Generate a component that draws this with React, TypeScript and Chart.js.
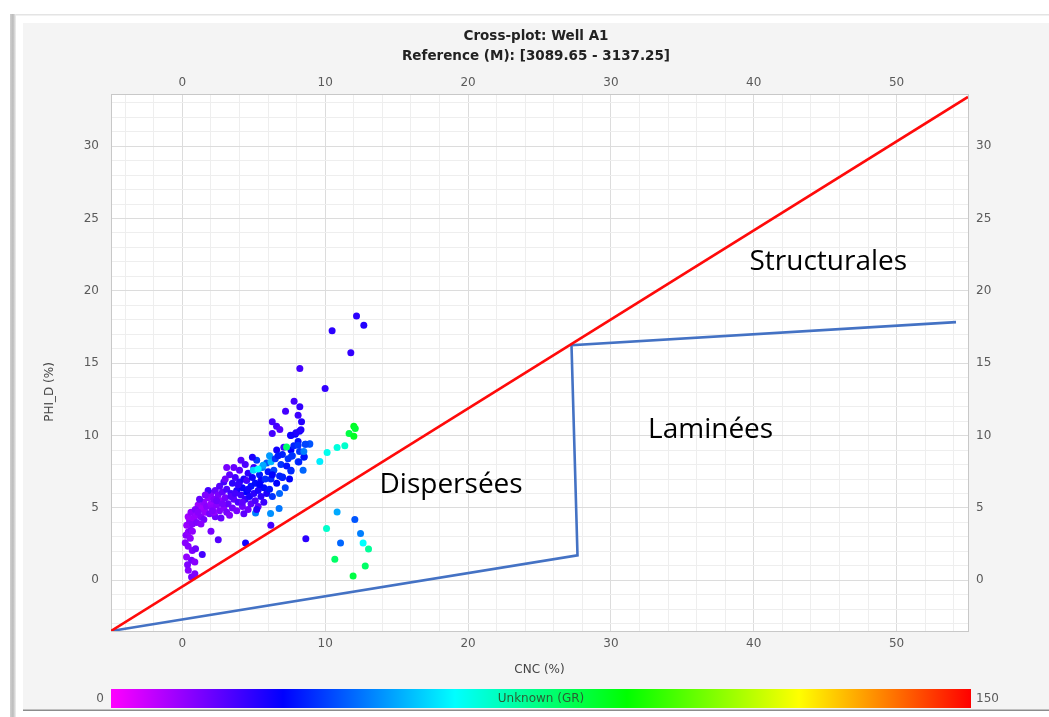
import React, { useEffect, useRef } from "react";
import { Chart, registerables } from "chart.js";

Chart.register(...registerables);

const W = 1049;
const H = 717;

// Axis extents (CNC % on x, PHI_D % on y)
const X_MIN = -5;
const X_MAX = 55;
const Y_MIN = -3.5;
const Y_MAX = 33.6;

const xTickLabels = [0, 10, 20, 30, 40, 50];
const yTickLabels = [0, 5, 10, 15, 20, 25, 30];
const xGridValues = [-4, -2, 0, 2, 4, 6, 8, 10, 12, 14, 16, 18, 20, 22, 24, 26, 28, 30, 32, 34, 36, 38, 40, 42, 44, 46, 48, 50, 52, 54];
const yGridValues = [-3, -2, -1, 0, 1, 2, 3, 4, 5, 6, 7, 8, 9, 10, 11, 12, 13, 14, 15, 16, 17, 18, 19, 20, 21, 22, 23, 24, 25, 26, 27, 28, 29, 30, 31, 32, 33];

// Samples: neutron porosity (CNC), density porosity (PHI_D), gamma ray (GR)
const cnc = [
  0.64, 0.87, 0.41, 0.36, 0.64, 0.87, 0.29, 1.39, 0.4, 0.69, 0.92, 0.25, 0.41, 0.59, 0.2, 0.55,
  2.51, 4.42, 6.19, 8.64, 5.12, 6.17, 6.77, 2.0,
  0.3, 0.5, 0.4, 0.7, 0.8, 0.6, 1.0, 1.0, 1.2, 1.1, 1.3, 1.4, 1.5, 1.6, 1.7, 1.8, 1.9, 2.0, 2.0, 2.1,
  2.2, 2.3, 2.3, 2.4, 2.5, 2.6, 2.6, 2.7, 2.8, 2.9, 2.9, 3.0, 1.5, 1.2, 0.9, 1.8, 2.2, 0.7, 1.3, 2.7,
  3.1, 3.2, 3.1, 3.3, 3.1, 3.4, 3.5, 3.5, 3.6, 3.7, 3.8, 3.8, 3.9, 4.0, 4.0, 4.1, 4.2, 4.2, 4.3, 4.4,
  4.4, 4.5, 4.5, 4.6, 4.6, 4.7, 4.8, 4.8, 4.9, 5.0, 5.0, 5.1, 5.1, 5.2, 5.3, 5.3, 5.4, 5.5, 5.5, 5.6,
  5.7, 5.7, 5.8, 5.9, 5.9, 6.0, 3.3, 3.6, 4.1, 3.0, 4.3, 5.2, 4.9, 3.9, 4.6, 5.4,
  1.6, 2.4, 3.4, 2.8, 3.7, 4.2, 1.1, 2.1,
  4.96, 5.65, 5.3, 6.2, 6.1,
  6.1, 6.2, 6.3, 6.4, 6.5, 6.6, 6.6, 6.8, 6.8, 6.9, 7.0, 7.0, 7.1, 7.2, 7.3, 7.4, 7.5, 7.6, 7.6, 7.7,
  7.8, 7.9, 7.6, 8.1, 8.2, 8.2, 8.1, 8.5, 8.6, 8.9, 7.6, 8.45, 7.01, 7.64, 8.15, 8.53, 6.3, 6.7,
  12.19, 12.7, 10.48, 11.79, 8.22, 9.99, 7.82, 8.22, 7.22, 8.1, 8.34, 6.29, 6.59, 6.82, 6.29, 7.95, 7.57, 8.3,
  12.0, 12.1, 11.67, 12.0, 11.37, 10.83, 10.13, 9.62, 8.92, 8.62, 8.1, 7.29, 8.5,
  10.83, 12.07, 10.09, 12.47, 11.07, 12.65, 13.03, 10.67, 12.8, 11.95,
];

const phid = [
  0.23, 0.46, 0.69, 1.08, 1.38, 1.27, 1.61, 1.78, 2.35, 2.07, 2.19, 3.11, 3.34, 3.46, 2.6, 2.9,
  2.81, 2.58, 3.8, 2.88, 4.65, 4.61, 4.96, 3.4,
  3.8, 4.1, 4.4, 3.9, 4.3, 4.7, 4.5, 4.0, 4.9, 5.2, 4.4, 5.0, 5.4, 4.7, 5.1, 5.7, 4.6, 5.3, 6.0, 5.0,
  5.6, 4.4, 6.2, 5.2, 5.9, 4.8, 6.5, 5.5, 6.1, 5.0, 6.8, 5.7, 4.2, 5.6, 4.9, 6.2, 4.7, 3.4, 3.9, 4.3,
  4.7, 5.3, 6.3, 7.3, 7.8, 6.0, 5.0, 6.7, 5.6, 7.1, 6.2, 4.8, 5.4, 6.8, 7.6, 5.9, 6.4, 5.1, 7.0, 5.6,
  8.0, 6.1, 6.9, 4.9, 7.4, 5.8, 6.5, 5.3, 7.1, 6.0, 7.8, 5.5, 6.7, 8.3, 6.2, 5.1, 7.3, 5.8, 6.9, 7.8,
  6.4, 5.4, 7.0, 8.1, 6.0, 7.5, 4.5, 7.8, 8.3, 7.0, 4.6, 4.9, 8.5, 6.6, 6.3, 6.6,
  5.9, 5.5, 5.8, 5.3, 6.0, 5.4, 4.7, 4.8,
  7.6, 7.95, 7.7, 8.2, 8.6,
  6.3, 7.0, 5.8, 7.6, 8.4, 6.7, 9.0, 7.2, 6.0, 8.0, 7.1, 8.7, 9.2, 6.4, 7.9, 8.4, 7.0, 9.0, 7.6, 8.6,
  9.3, 10.1, 10.0, 9.6, 8.9, 10.3, 8.2, 8.5, 9.4, 9.4, 7.56, 7.61, 7.14, 8.58, 8.18, 8.53, 7.3, 8.6,
  18.26, 17.63, 17.24, 15.72, 14.64, 13.26, 12.38, 11.99, 11.69, 11.41, 10.95, 10.95, 10.65, 10.42, 10.14, 10.2, 10.03, 10.4,
  10.65, 10.49, 10.14, 9.96, 9.29, 9.18, 8.83, 8.21, 9.44, 9.4, 9.34, 9.22, 8.9,
  4.72, 4.2, 3.58, 3.23, 2.58, 2.58, 2.17, 1.45, 0.99, 0.3,
];

const gr = [
  16, 15, 14, 15, 16, 14, 13, 22, 14, 15, 17, 14, 13, 15, 14, 13,
  20, 28, 22, 25, 45, 47, 44, 16,
  12, 13, 11, 14, 12, 13, 12, 15, 13, 12, 14, 11, 13, 12, 14, 13, 16, 12, 14, 13,
  15, 17, 18, 14, 16, 15, 20, 13, 18, 14, 22, 16, 16, 18, 15, 22, 13, 13, 14, 18,
  16, 18, 21, 19, 16, 23, 17, 25, 19, 22, 27, 16, 21, 25, 19, 23, 29, 17, 27, 24,
  21, 30, 22, 17, 25, 27, 32, 19, 29, 25, 23, 21, 31, 37, 27, 19, 33, 25, 29, 45,
  31, 23, 35, 40, 27, 32, 15, 18, 20, 17, 19, 25, 27, 24, 28, 30,
  15, 17, 20, 16, 22, 19, 14, 15,
  55, 50, 60, 52, 48,
  32, 34, 36, 38, 36, 30, 28, 34, 42, 36, 30, 34, 22, 38, 32, 36, 30, 30, 34, 38,
  34, 30, 28, 32, 36, 28, 40, 38, 40, 40, 35, 42, 34, 36, 34, 32, 30, 33,
  25, 26, 25, 24, 22, 24, 22, 24, 22, 23, 26, 22, 22, 20, 22, 26, 28, 26,
  86, 84, 82, 86, 66, 64, 62, 58, 40, 38, 36, 78, 45,
  50, 40, 66, 45, 42, 60, 72, 78, 78, 82,
];

// Zone boundaries
const redLineX = [-5, 55];
const redLineY = [-3.5, 33.4];
const blueLineX = [-5, 27.66, 27.24, 54.16];
const blueLineY = [-3.5, 1.73, 16.25, 17.84];

// Zone names, anchored at their left edge in data units
const zoneNames = ["Structurales", "Laminées", "Dispersées"];
const zoneX = [39.7, 32.6, 13.8];
const zoneY = [22.0, 10.4, 6.6];

const GR_MIN = 0;
const GR_MAX = 150;
const rampStops: [number, number[]][] = [
  [0, [255, 0, 255]],
  [0.2, [0, 0, 255]],
  [0.4, [0, 255, 255]],
  [0.6, [0, 255, 0]],
  [0.8, [255, 255, 0]],
  [1, [255, 0, 0]],
];

function rampColor(v: number): string {
  const t = Math.max(0, Math.min(1, (v - GR_MIN) / (GR_MAX - GR_MIN)));
  for (let i = 1; i < rampStops.length; i++) {
    const [t1, c1] = rampStops[i];
    const [t0, c0] = rampStops[i - 1];
    if (t <= t1) {
      const f = (t - t0) / (t1 - t0);
      const c = c0.map((a, k) => Math.round(a + (c1[k] - a) * f));
      return `rgb(${c[0]},${c[1]},${c[2]})`;
    }
  }
  return "rgb(255,0,0)";
}

const TICK_FONT = { family: "'DejaVu Sans', sans-serif", size: 12 };
const TICK_COLOR = "#5a5a5a";
const GRID_MAJOR = "#dcdcdc";
const GRID_MINOR = "#eeeeee";
const FRAME_GREY = "#c8c8c8";

const framePlugin = {
  id: "frame",
  beforeDraw(chart: any) {
    const { ctx, chartArea } = chart;
    ctx.save();
    ctx.fillStyle = "#ffffff";
    ctx.fillRect(0, 0, W, H);
    // outer window edge
    ctx.fillStyle = "#e4e4e4";
    ctx.fillRect(11, 14, W - 11, 1.5);
    const g = ctx.createLinearGradient(10, 0, 16, 0);
    g.addColorStop(0, "#d0d0d0");
    g.addColorStop(0.5, "#bcbcbc");
    g.addColorStop(1, "#f0f0f0");
    ctx.fillStyle = g;
    ctx.fillRect(10, 14, 6, H - 14);
    // grey panel
    ctx.fillStyle = "#f4f4f4";
    ctx.fillRect(23, 23, W - 23, 710 - 23);
    // plot background
    ctx.fillStyle = "#ffffff";
    ctx.fillRect(chartArea.left, chartArea.top, chartArea.right - chartArea.left, chartArea.bottom - chartArea.top);
    ctx.restore();
  },
  afterDraw(chart: any) {
    const { ctx, chartArea, scales } = chart;
    ctx.save();
    // titles
    ctx.fillStyle = "#222222";
    ctx.textAlign = "center";
    ctx.textBaseline = "middle";
    ctx.font = "bold 13.5px 'DejaVu Sans', sans-serif";
    ctx.fillText("Cross-plot: Well A1", 536, 36);
    ctx.fillText("Reference (M): [3089.65 - 3137.25]", 536, 56);

    // axis titles
    ctx.fillStyle = "#444444";
    ctx.font = "12px 'DejaVu Sans', sans-serif";
    ctx.fillText("CNC (%)", (chartArea.left + chartArea.right) / 2, 670);
    ctx.save();
    ctx.translate(50, 392);
    ctx.rotate(-Math.PI / 2);
    ctx.fillText("PHI_D (%)", 0, 0);
    ctx.restore();

    // zone names
    ctx.fillStyle = "#000000";
    ctx.textAlign = "left";
    ctx.font = "28px 'Open Sans', sans-serif";
    zoneNames.forEach((name, i) => {
      ctx.fillText(name, scales.x.getPixelForValue(zoneX[i]), scales.y.getPixelForValue(zoneY[i]));
    });

    // colour bar
    const cbLeft = chartArea.left;
    const cbRight = chartArea.right + 3;
    const cbTop = 689;
    const cbBottom = 708;
    const grad = ctx.createLinearGradient(cbLeft, 0, cbRight, 0);
    rampStops.forEach(([t, c]) => grad.addColorStop(t, `rgb(${c[0]},${c[1]},${c[2]})`));
    ctx.fillStyle = grad;
    ctx.fillRect(cbLeft, cbTop, cbRight - cbLeft, cbBottom - cbTop);
    ctx.fillStyle = "#2a5e34";
    ctx.textAlign = "center";
    ctx.font = "12px 'DejaVu Sans', sans-serif";
    ctx.fillText("Unknown (GR)", (cbLeft + cbRight) / 2, 699);
    ctx.fillStyle = TICK_COLOR;
    ctx.font = "12px 'DejaVu Sans', sans-serif";
    ctx.textAlign = "right";
    ctx.fillText(String(GR_MIN), cbLeft - 7, 699);
    ctx.textAlign = "left";
    ctx.fillText(String(GR_MAX), cbRight + 5, 699);

    // bottom rule
    ctx.fillStyle = "#8c8c8c";
    ctx.fillRect(23, 709.5, W - 23, 1.5);
    ctx.restore();
  },
};

export default function App() {
  const canvasRef = useRef<HTMLCanvasElement | null>(null);

  useEffect(() => {
    const canvas = canvasRef.current;
    if (!canvas) return;

    const points = cnc.map((x, i) => ({ x, y: phid[i] }));
    const pointColors = gr.map((v) => rampColor(v));
    const red = redLineX.map((x, i) => ({ x, y: redLineY[i] }));
    const blue = blueLineX.map((x, i) => ({ x, y: blueLineY[i] }));

    const gridColor = (ctx: any, step: number) =>
      ctx.tick && Math.abs(ctx.tick.value % step) < 1e-9 ? GRID_MAJOR : GRID_MINOR;

    const chart = new Chart(canvas, {
      type: "scatter",
      data: {
        datasets: [
          {
            data: red,
            showLine: true,
            borderColor: "#ff0a0a",
            borderWidth: 2.6,
            pointRadius: 0,
            fill: false,
          },
          {
            data: blue,
            showLine: true,
            borderColor: "#4472c4",
            borderWidth: 2.6,
            pointRadius: 0,
            fill: false,
          },
          {
            data: points,
            pointRadius: 3.5,
            pointBorderWidth: 0,
            pointBackgroundColor: pointColors,
            pointBorderColor: pointColors,
          },
        ],
      },
      options: {
        responsive: false,
        animation: false,
        devicePixelRatio: 1,
        layout: { padding: 0 },
        plugins: {
          legend: { display: false },
          tooltip: { enabled: false },
          title: { display: false },
        },
        scales: {
          x: {
            type: "linear",
            position: "bottom",
            min: X_MIN,
            max: X_MAX,
            afterBuildTicks: (s: any) => {
              s.ticks = xGridValues.map((v) => ({ value: v }));
            },
            afterFit: (s: any) => {
              s.height = H - 631;
            },
            ticks: {
              autoSkip: false,
              maxRotation: 0,
              padding: 6,
              font: TICK_FONT,
              color: TICK_COLOR,
              callback: (v: any) => (Number(v) % 10 === 0 ? String(v) : ""),
            },
            grid: { color: (c: any) => gridColor(c, 10), drawTicks: false, lineWidth: 1 },
            border: { display: true, color: FRAME_GREY },
          },
          x2: {
            type: "linear",
            position: "top",
            min: X_MIN,
            max: X_MAX,
            afterBuildTicks: (s: any) => {
              s.ticks = xTickLabels.map((v) => ({ value: v }));
            },
            afterFit: (s: any) => {
              s.height = 94;
            },
            ticks: { autoSkip: false, maxRotation: 0, padding: 4, font: TICK_FONT, color: TICK_COLOR },
            grid: { display: false, drawTicks: false },
            border: { display: true, color: FRAME_GREY },
          },
          y: {
            type: "linear",
            position: "left",
            min: Y_MIN,
            max: Y_MAX,
            afterBuildTicks: (s: any) => {
              s.ticks = yGridValues.map((v) => ({ value: v }));
            },
            afterFit: (s: any) => {
              s.width = 111;
            },
            ticks: {
              autoSkip: false,
              padding: 12,
              font: TICK_FONT,
              color: TICK_COLOR,
              callback: (v: any) => (Number(v) % 5 === 0 ? String(v) : ""),
            },
            grid: { color: (c: any) => gridColor(c, 5), drawTicks: false, lineWidth: 1 },
            border: { display: true, color: FRAME_GREY },
          },
          y2: {
            type: "linear",
            position: "right",
            min: Y_MIN,
            max: Y_MAX,
            afterBuildTicks: (s: any) => {
              s.ticks = yTickLabels.map((v) => ({ value: v }));
            },
            afterFit: (s: any) => {
              s.width = W - 968;
            },
            ticks: { autoSkip: false, padding: 8, font: TICK_FONT, color: TICK_COLOR },
            grid: { display: false, drawTicks: false },
            border: { display: true, color: FRAME_GREY },
          },
        },
      },
      plugins: [framePlugin],
    });

    return () => chart.destroy();
  }, []);

  return (
    <canvas
      ref={canvasRef}
      width={W}
      height={H}
      style={{ position: "absolute", left: 0, top: 0, width: W, height: H, display: "block" }}
    />
  );
}
